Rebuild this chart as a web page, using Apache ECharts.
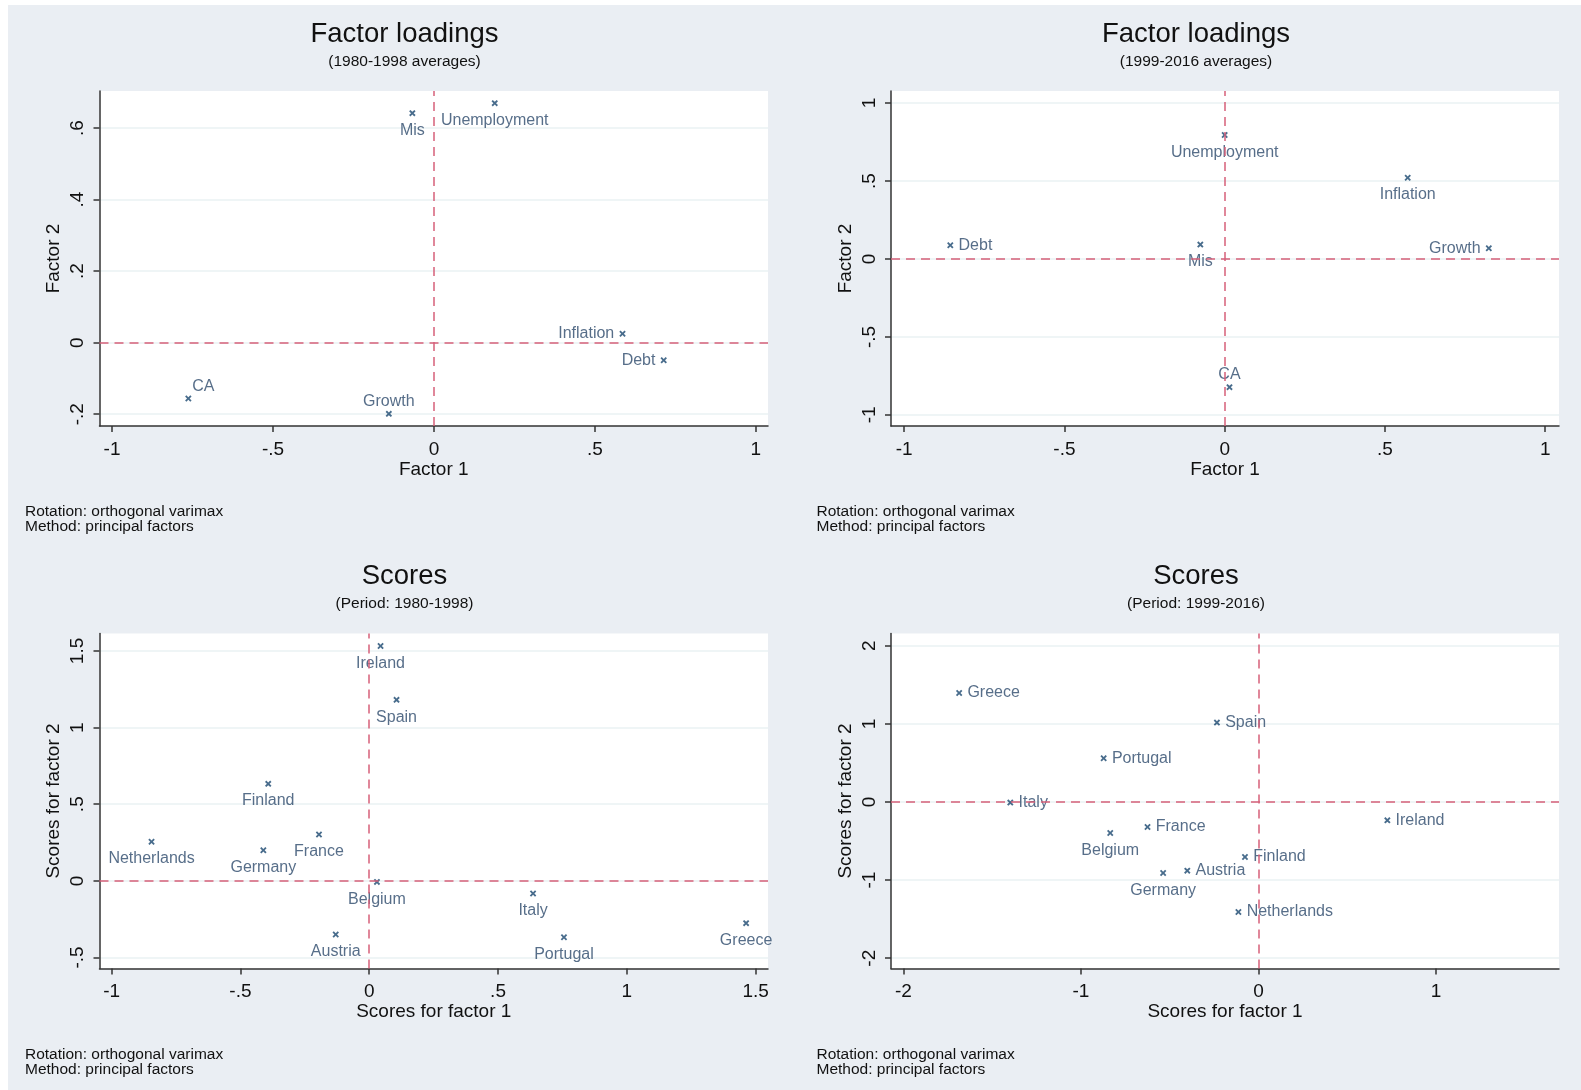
<!DOCTYPE html>
<html>
<head>
<meta charset="utf-8">
<title>Factor loadings and scores</title>
<script src="https://cdn.jsdelivr.net/npm/echarts@6/dist/echarts.min.js"></script>
<style>
  body{margin:0; background:#ffffff;}
  #bg{position:absolute; left:8px; top:5px; width:1573px; height:1085px; background:#eaeef3;}
  #main{position:absolute; left:0; top:0; width:1581px; height:1090px;}
</style>
</head>
<body>
<div id="bg"></div>
<div id="main"></div>
<script>
// loadings, 1980-1998 averages
var loadNames = ['Mis', 'Unemployment', 'Inflation', 'Debt', 'CA', 'Growth'];
var load1F1 = [-0.067, 0.189, 0.586, 0.714, -0.763, -0.140];
var load1F2 = [0.642, 0.670, 0.025, -0.049, -0.156, -0.199];
// loadings, 1999-2016 averages
var load2F1 = [-0.076, 0.000, 0.571, -0.856, 0.015, 0.824];
var load2F2 = [0.092, 0.795, 0.521, 0.088, -0.822, 0.069];

// scores per country
var countries = ['Austria', 'Belgium', 'Finland', 'France', 'Germany', 'Greece', 'Ireland', 'Italy', 'Netherlands', 'Portugal', 'Spain'];
var score1F1 = [-0.130, 0.030, -0.392, -0.195, -0.411, 1.463, 0.044, 0.636, -0.845, 0.756, 0.106];
var score1F2 = [-0.350, -0.007, 0.633, 0.302, 0.200, -0.276, 1.532, -0.083, 0.255, -0.368, 1.181];
var score2F1 = [-0.401, -0.835, -0.076, -0.625, -0.537, -1.686, 0.726, -1.398, -0.113, -0.872, -0.234];
var score2F2 = [-0.879, -0.397, -0.704, -0.320, -0.909, 1.396, -0.235, -0.008, -1.408, 0.559, 1.016];

// tick values
var ticksLoadX = [-1, -0.5, 0, 0.5, 1];
var ticksLoad1Y = [-0.2, 0, 0.2, 0.4, 0.6];
var ticksLoad2Y = [-1, -0.5, 0, 0.5, 1];
var ticksScore1X = [-1, -0.5, 0, 0.5, 1, 1.5];
var ticksScore1Y = [-0.5, 0, 0.5, 1, 1.5];
var ticksScore2X = [-2, -1, 0, 1];
var ticksScore2Y = [-2, -1, 0, 1, 2];

// where each marker label sits (Stata mlabpos)
var labPos1 = {Mis: 'bottom', Unemployment: 'bottom', Inflation: 'left', Debt: 'left', CA: 'topright', Growth: 'top'};
var labPos2 = {Mis: 'bottom', Unemployment: 'bottom', Inflation: 'bottom', Debt: 'right', CA: 'top', Growth: 'left'};
var labPos4 = {Belgium: 'bottom', Germany: 'bottom'};

var FONT = '"Liberation Sans", Arial, sans-serif';
var NAVY = '#1a476f';
var LABEL = '#2d4a6b';
var REF = '#d6607a';
var XMARK = 'path://M0,2 L2,0 L5,3 L8,0 L10,2 L7,5 L10,8 L8,10 L5,7 L2,10 L0,8 L3,5 Z';

function fmt(v) {
  var s = String(Math.round(v * 100) / 100);
  return s.replace(/^(-?)0\./, '$1.');
}

function points(names, xs, ys, posMap, defPos) {
  var out = [];
  for (var i = 0; i < names.length; i++) {
    var p = (posMap && posMap[names[i]]) || defPos;
    var lab = {position: p};
    if (p === 'bottom') lab.distance = 6;
    if (p === 'top') lab.distance = 1;
    if (p === 'topright') lab = {position: 'top', distance: 1, offset: [15, 0]};
    out.push({name: names[i], value: [xs[i], ys[i]], label: lab});
  }
  return out;
}

var DX = 791.5, DY = 542.5;
var grids = [
  {left: 99.5, top: 91, width: 668.5, height: 335},
  {left: 99.5 + DX, top: 91, width: 668, height: 335},
  {left: 99.5, top: 91 + DY, width: 668.5, height: 335},
  {left: 99.5 + DX, top: 91 + DY, width: 668, height: 335}
];
grids.forEach(function (g) { g.show = true; g.backgroundColor = '#ffffff'; g.borderWidth = 0; });

function xAxisOf(i, min, max, ticks, name) {
  return {
    type: 'value', gridIndex: i, min: min, max: max, position: 'bottom',
    name: name, nameLocation: 'middle', nameGap: 34,
    nameTextStyle: {fontFamily: FONT, fontSize: 19, color: '#111'},
    axisLine: {show: true, onZero: false, lineStyle: {color: '#333', width: 1.5}},
    axisTick: {show: true, length: 6, customValues: ticks, lineStyle: {color: '#333', width: 1.5}},
    axisLabel: {customValues: ticks, formatter: fmt, margin: 14, fontFamily: FONT, fontSize: 19, color: '#111'},
    splitLine: {show: false}
  };
}
function yAxisOf(i, min, max, ticks, name) {
  return {
    type: 'value', gridIndex: i, min: min, max: max, position: 'left',
    name: name, nameLocation: 'middle', nameGap: 36,
    nameTextStyle: {fontFamily: FONT, fontSize: 19, color: '#111'},
    axisLine: {show: true, onZero: false, lineStyle: {color: '#333', width: 1.5}},
    axisTick: {show: true, length: 6, customValues: ticks, lineStyle: {color: '#333', width: 1.5}},
    axisLabel: {customValues: ticks, formatter: fmt, rotate: 90, margin: 12, fontFamily: FONT, fontSize: 19, color: '#111'},
    splitLine: {show: true, lineStyle: {color: '#eaf2f3', width: 1.5}}
  };
}

function scatterOf(i, data) {
  return {
    type: 'scatter', xAxisIndex: i, yAxisIndex: i, data: data,
    symbol: XMARK, symbolSize: 6.5, clip: false,
    itemStyle: {color: NAVY},
    label: {show: true, formatter: '{b}', distance: 5, fontFamily: FONT, fontSize: 16, color: LABEL},
    markLine: {
      silent: true, symbol: 'none', label: {show: false}, animation: false,
      lineStyle: {color: REF, type: [9, 6], width: 1.5},
      data: [{xAxis: 0}, {yAxis: 0}]
    }
  };
}

function txt(x, y, s, size, align) {
  return {type: 'text', x: x, y: y, silent: true,
    style: {text: s, fill: '#111', font: size + 'px ' + FONT, align: align || 'center', verticalAlign: 'middle'}};
}

var graphics = [];
var titles = [['Factor loadings', '(1980-1998 averages)'], ['Factor loadings', '(1999-2016 averages)'],
              ['Scores', '(Period: 1980-1998)'], ['Scores', '(Period: 1999-2016)']];
titles.forEach(function (t, i) {
  var ox = (i % 2) * DX, oy = Math.floor(i / 2) * DY;
  graphics.push(txt(404.5 + ox, 34 + oy, t[0], 27.5));
  graphics.push(txt(404.5 + ox, 61.5 + oy, t[1], 15.5));
  graphics.push(txt(25 + ox, 512 + oy, 'Rotation: orthogonal varimax', 15.5, 'left'));
  graphics.push(txt(25 + ox, 527 + oy, 'Method: principal factors', 15.5, 'left'));
});

var chart = echarts.init(document.getElementById('main'), null, {renderer: 'canvas'});
chart.setOption({
  animation: false,
  backgroundColor: 'transparent',
  grid: grids,
  xAxis: [
    xAxisOf(0, -1.039, 1.038, ticksLoadX, 'Factor 1'),
    xAxisOf(1, -1.041, 1.043, ticksLoadX, 'Factor 1'),
    xAxisOf(2, -1.047, 1.548, ticksScore1X, 'Scores for factor 1'),
    xAxisOf(3, -2.07, 1.693, ticksScore2X, 'Scores for factor 1')
  ],
  yAxis: [
    yAxisOf(0, -0.233, 0.704, ticksLoad1Y, 'Factor 2'),
    yAxisOf(1, -1.071, 1.077, ticksLoad2Y, 'Factor 2'),
    yAxisOf(2, -0.572, 1.614, ticksScore1Y, 'Scores for factor 2'),
    yAxisOf(3, -2.132, 2.157, ticksScore2Y, 'Scores for factor 2')
  ],
  series: [
    scatterOf(0, points(loadNames, load1F1, load1F2, labPos1, 'bottom')),
    scatterOf(1, points(loadNames, load2F1, load2F2, labPos2, 'bottom')),
    scatterOf(2, points(countries, score1F1, score1F2, null, 'bottom')),
    scatterOf(3, points(countries, score2F1, score2F2, labPos4, 'right'))
  ],
  graphic: graphics
});
</script>
</body>
</html>
